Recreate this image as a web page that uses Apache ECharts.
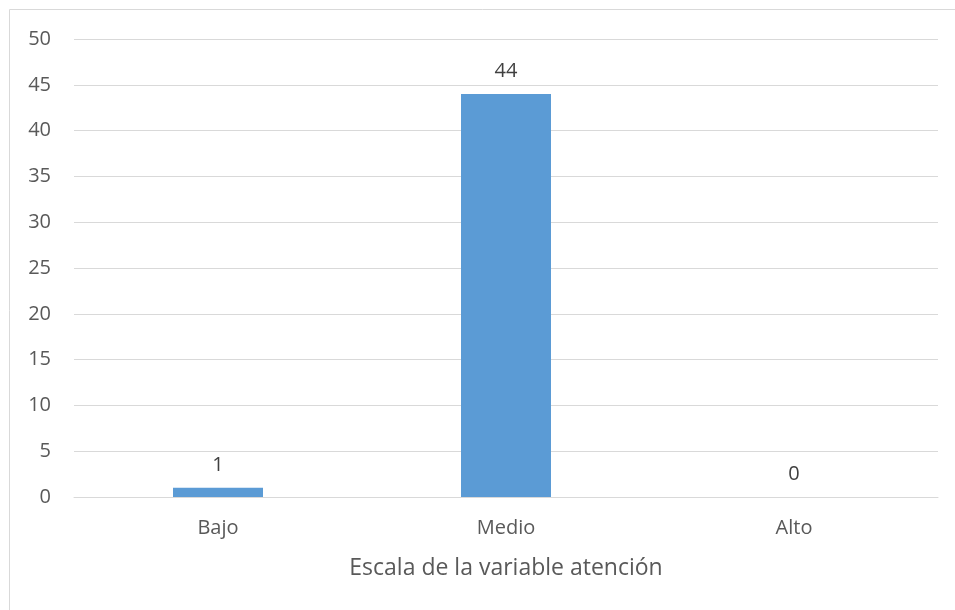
<!DOCTYPE html>
<html><head><meta charset="utf-8">
<script src="https://cdn.jsdelivr.net/npm/echarts@6/dist/echarts.min.js"></script>
<style>html,body{margin:0;padding:0;background:#fff}#c{width:955px;height:610px}</style>
</head><body><div id="c"></div>
<script>
const categories = ['Bajo', 'Medio', 'Alto'];
const values = [1, 44, 0];
const axisTitle = 'Escala de la variable atención';

const chart = echarts.init(document.getElementById('c'), null, {renderer: 'canvas'});
const font = '"Open Sans", sans-serif';
chart.setOption({
  animation: false,
  graphic: [{type: 'rect', shape: {x: 9.5, y: 9.5, width: 1000, height: 700}, style: {fill: 'none', stroke: '#d9d9d9', lineWidth: 1}, silent: true}],
  grid: {left: 74, right: 17, top: 39, bottom: 113},
  xAxis: {
    type: 'category', data: categories,
    axisLine: {lineStyle: {color: '#d9d9d9', width: 1}},
    axisTick: {show: false},
    axisLabel: {color: '#595959', fontSize: 20, fontFamily: font, margin: 21},
    name: axisTitle, nameLocation: 'middle', nameGap: 60,
    nameTextStyle: {color: '#595959', fontSize: 23, fontFamily: font}
  },
  yAxis: {
    type: 'value', min: 0, max: 50, interval: 5,
    axisLine: {show: false}, axisTick: {show: false},
    splitLine: {lineStyle: {color: '#d9d9d9', width: 1}},
    axisLabel: {color: '#595959', fontSize: 20, fontFamily: font, margin: 23}
  },
  series: [{
    type: 'bar', data: values, barWidth: 90,
    itemStyle: {color: '#5b9bd5'},
    label: {show: true, position: 'top', distance: 13, color: '#404040', fontSize: 20, fontFamily: font}
  }]
});
</script></body></html>
